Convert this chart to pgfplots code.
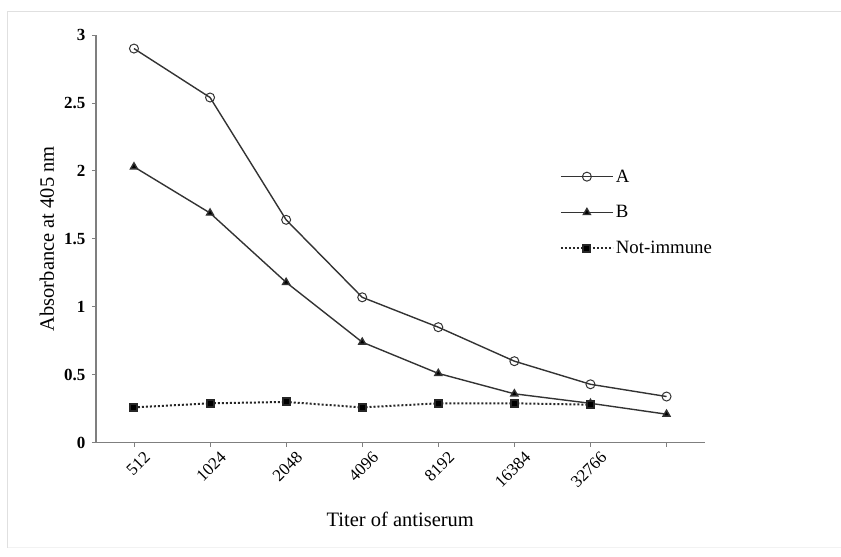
\documentclass[border=0pt]{standalone}
\usepackage{fontspec}
\setmainfont{Liberation Serif}
\usepackage{pgfplots}
\pgfplotsset{compat=1.18}
\definecolor{axgray}{HTML}{7F7F7F}
\definecolor{ln}{HTML}{333333}
\begin{document}
\begin{tikzpicture}[x=1pt,y=1pt]
\begin{axis}[
  at={(0pt,0pt)}, anchor=south west,
  scale only axis, width=609pt, height=408pt,
  xmin=-0.5, xmax=7.5, ymin=0, ymax=3,
  axis x line=bottom, axis y line=left,
  axis line style={-, axgray, line width=1.2pt},
  xtick={0,1,2,3,4,5,6,7},
  xticklabels={512,1024,2048,4096,8192,16384,32766,},
  ytick={0,0.5,1,1.5,2,2.5,3},
  yticklabels={0,0.5,1,1.5,2,2.5,3},
  tick align=outside, major tick length=4pt,
  tick style={axgray, line width=0.8pt},
  /pgf/number format/assume math mode=true,
  yticklabel style={font=\fontsize{17}{20}\selectfont\bfseries, xshift=-3pt},
  xticklabel style={font=\fontsize{17}{20}\selectfont, rotate=45, anchor=north east, inner sep=1pt, xshift=5pt, yshift=-8pt},
  xlabel={Titer of antiserum},
  ylabel={Absorbance at 405 nm},
  label style={font=\fontsize{20.5}{24}\selectfont},
  xlabel style={at={(axis description cs:0.5,-0.188)}, anchor=center},
  ylabel style={at={(axis description cs:-0.0805,0.5)}, anchor=center},
  clip=false,
  legend style={draw=none, fill=none, font=\fontsize{18.8}{22}\selectfont,
    at={(rel axis cs:0.762,0.675)}, anchor=north west,
    row sep=18pt, inner sep=0pt},
  legend cell align=left,
  legend image code/.code={\draw[mark repeat=2,mark phase=2,#1] plot coordinates {(0pt,0pt)(26pt,0pt)(52pt,0pt)};},
]
\addplot[ln, line width=1.4pt, mark=o, mark size=4.5pt, mark options={solid, line width=1pt, fill=white}]
  coordinates {(0,2.90)(1,2.54)(2,1.64)(3,1.07)(4,0.85)(5,0.60)(6,0.43)(7,0.34)};
\addlegendentry{A}
\addplot[ln, line width=1.4pt, mark=triangle*, mark size=4pt, mark options={solid, fill=black}]
  coordinates {(0,2.03)(1,1.69)(2,1.18)(3,0.74)(4,0.51)(5,0.36)(6,0.29)(7,0.21)};
\addlegendentry{B}
\addplot[black!85, line width=2pt, dash pattern=on 2pt off 2pt, mark=square*, mark size=3.5pt, mark options={solid, fill=black}]
  coordinates {(0,0.26)(1,0.29)(2,0.30)(3,0.26)(4,0.29)(5,0.29)(6,0.28)};
\addlegendentry{Not-immune}
\end{axis}
\path (-96,-114) rectangle (745,443);
\draw[black!12, line width=1pt] (-88,-105) -- (-88,431) -- (745,431);
\draw[black!5, line width=1pt] (-88,-105) -- (745,-105);
\end{tikzpicture}
\end{document}
